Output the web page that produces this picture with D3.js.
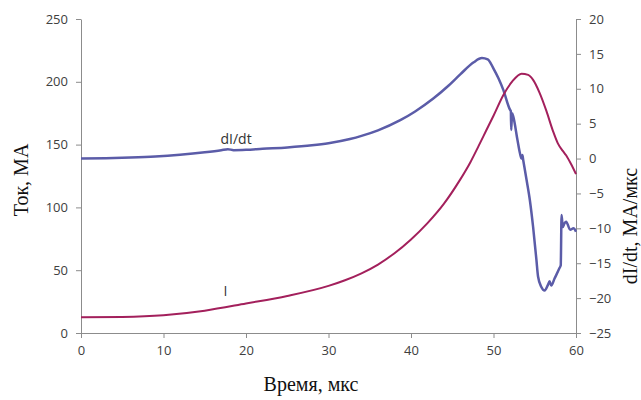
<!DOCTYPE html>
<html><head><meta charset="utf-8">
<script src="https://cdn.jsdelivr.net/npm/d3@7"></script>
<style>
html,body{margin:0;padding:0;background:#fff;}
svg{display:block;}
</style></head>
<body><svg id="c" width="641" height="400"></svg>
<script>
// Time axis ticks (мкс)
const xTicks = [0, 10, 20, 30, 40, 50, 60];
const yLeftTicks = [0, 50, 100, 150, 200, 250];
const yRightTicks = [-25, -20, -15, -10, -5, 0, 5, 10, 15, 20];

// Current I (MA) vs time
const iTime = [0, 5, 10, 15, 20, 25, 30, 32, 34, 36, 38, 40, 42, 44, 45.9, 47.2, 48.2, 49.1, 50, 51.2, 52.3, 53.4, 54.2, 54.8, 55.6, 56.4, 57.2, 57.8, 58.4, 58.8, 59.4, 60];
const iValue = [12.5, 12.8, 14.2, 17.8, 23.5, 29.5, 37.5, 42, 47.5, 54.5, 63.5, 74.5, 87.5, 103, 121.5, 136, 149, 161, 173, 189.5, 200.5, 206.5, 205.5, 201.5, 191, 177, 161, 151, 145, 141.5, 134.5, 126.5];

// dI/dt (MA/мкс) vs time
const dTime = [0, 3, 6, 9, 12, 15, 17, 17.8, 18.5, 20, 22, 25, 28, 30, 32.6, 34, 36, 38.7, 40.5, 42.7, 44.5, 46, 47.6, 48.6, 49.3, 50, 50.6, 51.2, 52.0, 52.1, 52.15, 52.25, 52.4, 52.9, 53.2, 53.4, 53.5, 53.6, 54.0, 54.4, 54.8, 55.2, 55.4, 55.8, 56.2, 56.6, 56.8, 57.0, 57.4, 58.0, 58.15, 58.25, 58.4, 58.6, 58.8, 59.3, 59.7, 60];
const dValue = [0.0, 0.05, 0.15, 0.3, 0.55, 0.9, 1.2, 1.35, 1.2, 1.25, 1.4, 1.6, 1.9, 2.2, 2.8, 3.25, 4.05, 5.5, 6.75, 8.6, 10.4, 12.1, 13.8, 14.4, 14.2, 12.9, 11.5, 9.8, 7.0, 6.8, 4.1, 6.5, 6.0, 2.7, 0.8, 0.0, 0.5, -0.2, -3.0, -5.9, -9.8, -14.5, -16.9, -18.4, -18.9, -18.1, -17.6, -18.2, -17.2, -15.7, -15.3, -8.1, -9.8, -9.3, -9.05, -10.2, -10.0, -10.5];

const svg = d3.select("#c");
const x = d3.scaleLinear().domain([0, 60]).range([81, 576]);
const yL = d3.scaleLinear().domain([0, 250]).range([333, 19]);
const yR = d3.scaleLinear().domain([-25, 20]).range([333, 19]);

const axisColor = "#8c8c8c";
const tickFont = "'Open Sans', 'Liberation Sans', sans-serif";

function styleAxis(g) {
  g.select(".domain").attr("stroke", axisColor).attr("stroke-width", 1);
  g.selectAll(".tick line").attr("stroke", axisColor);
  g.selectAll(".tick text").attr("fill", "#404040").attr("font-family", tickFont).attr("font-size", 13);
}

svg.append("g").attr("transform", "translate(0,333)")
  .call(d3.axisBottom(x).tickValues(xTicks).tickSize(5).tickSizeOuter(0).tickPadding(8))
  .call(styleAxis);
svg.append("g").attr("transform", "translate(81,0)")
  .call(d3.axisLeft(yL).tickValues(yLeftTicks).tickSize(5).tickSizeOuter(0).tickPadding(8))
  .call(styleAxis);
svg.append("g").attr("transform", "translate(576,0)")
  .call(d3.axisRight(yR).tickValues(yRightTicks).tickSize(5).tickSizeOuter(0).tickPadding(8))
  .call(styleAxis);

const lineI = d3.line().x((d, i) => x(iTime[i])).y(d => yL(d)).curve(d3.curveMonotoneX);
const lineD = d3.line().x((d, i) => x(dTime[i])).y(d => yR(d)).curve(d3.curveMonotoneX);

svg.append("path").attr("d", lineD(dValue)).attr("fill", "none")
  .attr("stroke", "#5b5ca8").attr("stroke-width", 2.5).attr("stroke-linejoin", "round");
svg.append("path").attr("d", lineI(iValue)).attr("fill", "none")
  .attr("stroke", "#a3205c").attr("stroke-width", 2).attr("stroke-linejoin", "round");

// series labels
svg.append("text").attr("x", x(18.8)).attr("y", 144).attr("text-anchor", "middle")
  .attr("font-family", tickFont).attr("font-size", 14).attr("fill", "#333").text("dI/dt");
svg.append("text").attr("x", x(17.5)).attr("y", 296).attr("text-anchor", "middle")
  .attr("font-family", tickFont).attr("font-size", 14).attr("fill", "#333").text("I");

// axis titles
const serif = "'Liberation Serif', 'Times New Roman', serif";
svg.append("text").attr("transform", "translate(28,180) rotate(-90)").attr("text-anchor", "middle")
  .attr("font-family", serif).attr("font-size", 20).attr("fill", "#111").text("Ток, МА");
svg.append("text").attr("transform", "translate(637,226) rotate(-90)").attr("text-anchor", "middle")
  .attr("font-family", serif).attr("font-size", 20).attr("fill", "#111").text("dI/dt, МА/мкс");
svg.append("text").attr("x", 311).attr("y", 391).attr("text-anchor", "middle")
  .attr("font-family", serif).attr("font-size", 20).attr("fill", "#111").text("Время, мкс");
</script>
</body></html>
